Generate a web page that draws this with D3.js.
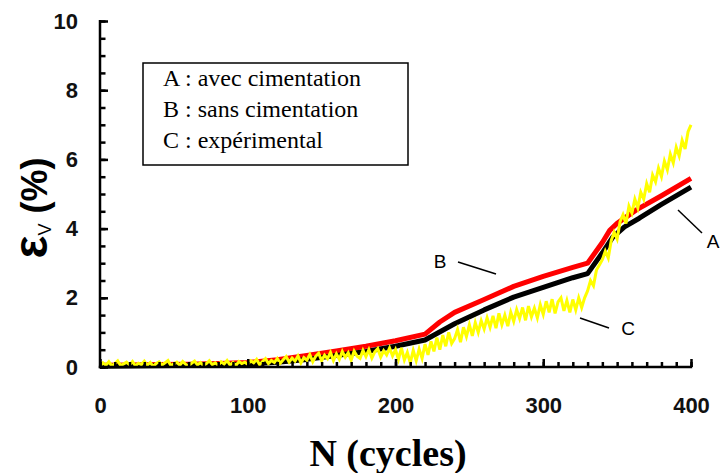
<!DOCTYPE html>
<html><head><meta charset="utf-8">
<script src="https://cdn.jsdelivr.net/npm/d3@7"></script>
<style>body{margin:0;background:#fff}svg{display:block}</style>
</head><body>
<svg id="c" width="721" height="473"></svg>
<script>
// ---- data ----
const xTicks = [0, 100, 200, 300, 400];
const yTicks = [0, 2, 4, 6, 8, 10];
const legendLines = ["A : avec cimentation", "B : sans cimentation", "C : expérimental"];

// B : sans cimentation (red)
const seriesB_x = [0, 20, 40, 60, 80, 100, 120, 140, 160, 180, 200, 220, 230, 240, 260, 280, 300, 320, 330, 340, 345, 350, 363, 380, 400];
const seriesB_y = [0.05, 0.06, 0.07, 0.08, 0.10, 0.13, 0.21, 0.33, 0.46, 0.60, 0.76, 0.95, 1.30, 1.58, 1.95, 2.33, 2.62, 2.88, 3.00, 3.60, 3.95, 4.15, 4.54, 4.95, 5.45];

// A : avec cimentation (black)
const seriesA_x = [0, 50, 100, 120, 140, 160, 180, 200, 220, 240, 260, 280, 300, 320, 330, 340, 347, 355, 365, 380, 400];
const seriesA_y = [0.02, 0.04, 0.08, 0.14, 0.22, 0.33, 0.45, 0.60, 0.78, 1.25, 1.65, 2.02, 2.30, 2.58, 2.70, 3.30, 3.75, 4.05, 4.30, 4.70, 5.20];

// C : expérimental (yellow), one reading every 2 cycles from 0 to 400
const seriesC_step = 2;
const seriesC_y = [
  0.02,0.12,0.05,0.15,0.03,0.10,0.18,0.04,0.09,0.14,
  0.06,0.16,0.03,0.11,0.07,0.17,0.05,0.13,0.02,0.10,
  0.15,0.06,0.12,0.19,0.04,0.09,0.14,0.05,0.16,0.08,
  0.03,0.11,0.17,0.06,0.13,0.04,0.10,0.18,0.07,0.12,
  0.05,0.15,0.09,0.19,0.06,0.13,0.04,0.16,0.10,0.14,
  0.08,0.18,0.12,0.22,0.07,0.16,0.24,0.10,0.19,0.13,
  0.25,0.11,0.21,0.30,0.14,0.26,0.17,0.32,0.12,0.27,
  0.20,0.36,0.15,0.31,0.40,0.18,0.34,0.24,0.42,0.19,
  0.38,0.22,0.45,0.28,0.41,0.20,0.46,0.31,0.25,0.48,
  0.30,0.50,0.26,0.44,0.53,0.29,0.47,0.35,0.55,0.32,
  0.50,0.22,0.55,0.20,0.42,0.12,0.48,0.18,0.52,0.25,
  0.66,0.35,0.74,0.45,0.85,0.50,0.92,0.60,1.00,0.68,
  0.82,1.08,0.72,1.15,0.88,1.22,0.90,1.28,1.00,1.34,
  1.10,1.42,1.15,1.48,1.12,1.55,1.22,1.50,1.18,1.58,
  1.32,1.66,1.40,1.72,1.35,1.76,1.45,1.70,1.42,1.80,
  1.52,1.90,1.58,1.96,1.55,1.88,2.00,1.62,1.92,1.58,
  1.95,1.65,2.00,1.72,2.00,2.20,2.50,2.35,2.80,2.95,
  3.10,3.35,3.15,3.65,3.90,3.70,4.20,4.40,4.15,4.65,
  4.45,4.85,4.60,5.05,4.85,5.30,5.05,5.55,5.35,5.75,
  5.50,5.95,5.70,6.15,5.90,6.35,6.10,6.55,6.30,6.80,
  7.00
];

// ---- chart ----
const svg = d3.select("#c");
const x = d3.scaleLinear().domain([0, 400]).range([100, 691]);
const y = d3.scaleLinear().domain([0, 10]).range([367, 21]);

const line = d3.line().x(d => x(d[0])).y(d => y(d[1]));
const dataB = seriesB_x.map((v, i) => [v, seriesB_y[i]]);
const dataA = seriesA_x.map((v, i) => [v, seriesA_y[i]]);
const dataC = seriesC_y.map((v, i) => [i * seriesC_step, v]);

svg.append("path").datum(dataB).attr("d", line)
  .attr("fill", "none").attr("stroke", "#ff0000").attr("stroke-width", 5).attr("stroke-linejoin", "round");
svg.append("path").datum(dataA).attr("d", line)
  .attr("fill", "none").attr("stroke", "#000").attr("stroke-width", 5).attr("stroke-linejoin", "round");
svg.append("path").datum(dataC).attr("d", line)
  .attr("fill", "none").attr("stroke", "#ffff00").attr("stroke-width", 3).attr("stroke-linejoin", "miter");

// axes
const font = "'Liberation Sans', Arial, sans-serif";
const yMinor = d3.range(0, 10.01, 0.5);
const xMinor = d3.range(0, 400.1, 10);

const gyMinor = svg.append("g").attr("transform", "translate(100,0)")
  .call(d3.axisLeft(y).tickValues(yMinor).tickSize(-5.5).tickFormat(""));
const gy = svg.append("g").attr("transform", "translate(100,0)")
  .call(d3.axisLeft(y).tickValues(yTicks).tickSize(-8).tickPadding(22).tickFormat(d3.format("d")));
const gxMinor = svg.append("g").attr("transform", "translate(0,367)")
  .call(d3.axisBottom(x).tickValues(xMinor).tickSize(-5).tickFormat(""));
const gx = svg.append("g").attr("transform", "translate(0,367)")
  .call(d3.axisBottom(x).tickValues(xTicks).tickSize(-8).tickPadding(30).tickFormat(d3.format("d")));

[gyMinor, gy, gxMinor, gx].forEach(g => {
  g.selectAll(".domain").remove();
  g.selectAll(".tick line").attr("stroke", "#000").attr("stroke-width", 2.5);
  g.selectAll("text").attr("font-family", font).attr("font-weight", "bold")
    .attr("font-size", 22).attr("fill", "#111");
});
svg.append("line").attr("x1", x(0)).attr("x2", x(0)).attr("y1", y(10) - 1).attr("y2", y(0) + 1.2)
  .attr("stroke", "#000").attr("stroke-width", 2.5);
svg.append("line").attr("x1", x(0) - 1.2).attr("x2", x(400) + 1.2).attr("y1", y(0)).attr("y2", y(0))
  .attr("stroke", "#000").attr("stroke-width", 2.5);

// axis titles
svg.append("text").attr("x", 388).attr("y", 466).attr("text-anchor", "middle")
  .attr("font-family", "'Liberation Serif', 'Times New Roman', serif").attr("font-weight", "bold")
  .attr("font-size", 38).attr("fill", "#000").text("N (cycles)");

const yt = svg.append("text").attr("transform", "translate(47,208) rotate(-90)")
  .attr("text-anchor", "middle").attr("font-family", font).attr("font-weight", "bold").attr("fill", "#000");
yt.append("tspan").attr("font-size", 48).text("ε");
yt.append("tspan").attr("font-size", 18).attr("font-weight", "normal").attr("dy", 4).text("V");
yt.append("tspan").attr("font-size", 36).attr("dy", -4).text(" (%)");

// legend box
svg.append("rect").attr("x", 143).attr("y", 63).attr("width", 265).attr("height", 102)
  .attr("fill", "#fff").attr("stroke", "#000").attr("stroke-width", 1.5);
svg.selectAll("text.leg").data(legendLines).enter().append("text").attr("class", "leg")
  .attr("x", 163).attr("y", (d, i) => 86 + i * 31)
  .attr("font-family", "'Liberation Serif', 'Times New Roman', serif").attr("font-size", 24)
  .attr("fill", "#000").text(d => d);

// curve labels
const callouts = [
  {t: "B", tx: 440, ty: 268, x1: 458, y1: 262, x2: 496, y2: 274},
  {t: "C", tx: 628, ty: 335, x1: 580, y1: 318, x2: 609, y2: 328},
  {t: "A", tx: 713, ty: 248, x1: 678, y1: 210, x2: 702, y2: 233}
];
callouts.forEach(c => {
  svg.append("line").attr("x1", c.x1).attr("y1", c.y1).attr("x2", c.x2).attr("y2", c.y2)
    .attr("stroke", "#000").attr("stroke-width", 1.5);
  svg.append("text").attr("x", c.tx).attr("y", c.ty).attr("text-anchor", "middle")
    .attr("font-family", font).attr("font-size", 19).attr("fill", "#000").text(c.t);
});
</script>
</body></html>
